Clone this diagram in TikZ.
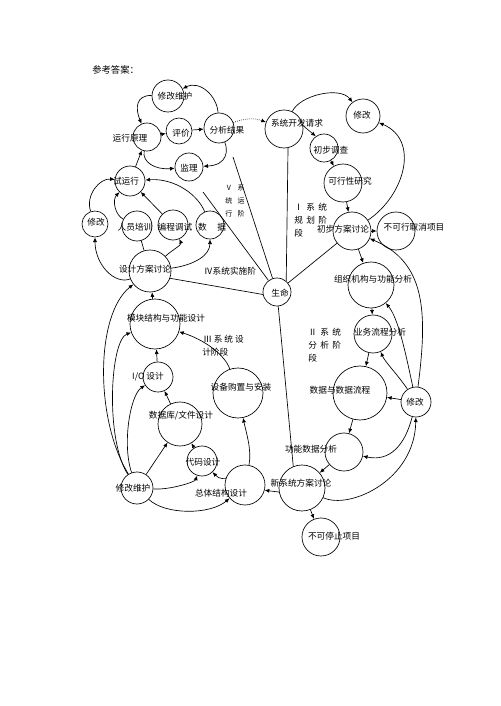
\documentclass[tikz,border=0pt]{standalone}
\usepackage{fontspec}
\setmainfont{Noto Sans CJK SC}
\usetikzlibrary{arrows.meta}
\newcommand{\gp}{\hspace{2.5pt}}
\tikzset{
  ring/.style={circle,draw,line width=0.5pt,inner sep=0pt,minimum size={#1*1.5pt}},
  lbl/.style={inner sep=0pt,font=\fontsize{6.5}{8}\selectfont},
  small lbl/.style={inner sep=0pt,font=\fontsize{5.3}{7}\selectfont},
  arr/.style={line width=0.5pt,-{Latex[length=3.5pt,width=3pt]}},
  edge line/.style={line width=0.5pt}
}

\begin{document}
\begin{tikzpicture}[x=0.75pt,y=0.75pt,yscale=-1,xscale=1]
\useasboundingbox (0,0) rectangle (500,706);

% Text Node
\node[lbl,anchor=west,font=\fontsize{7}{8}\selectfont] (title) at (92,70) {参考答案：};

%Shape: Circle -- V stage
\node[ring=16] (maint) at (168,96) {};
\node[ring=14] (principle) at (147,137) {};
\node[ring=13] (evaluate) at (179,131) {};
\node[ring=15] (result) at (219,128) {};
\node[ring=14] (supervise) at (189,167) {};
%Shape: Circle -- IV stage
\node[ring=15] (trial) at (130,181) {};
\node[ring=13] (modl) at (95,224) {};
\node[ring=15] (training) at (137,226) {};
\node[ring=15] (coding) at (173,225) {};
\node[ring=14] (data) at (210,225) {};
\node[ring=21] (designdisc) at (150,271) {};
\node[ring=14] (life) at (277,292) {};
%Shape: Circle -- I stage
\node[ring=19] (request) at (284,129) {};
\node[ring=17] (modtr) at (363,116) {};
\node[ring=14] (prelim) at (324,148) {};
\node[ring=19] (feasible) at (343,183) {};
\node[ring=19] (plandisc) at (352,231) {};
\node[ring=19] (cancel) at (396,231) {};
%Shape: Circle -- II stage
\node[ring=23] (orgfunc) at (371,285) {};
\node[ring=19] (bizflow) at (373,334) {};
\node[ring=27] (dataflow) at (360,393) {};
\node[ring=15] (modr) at (416,402) {};
\node[ring=19] (funcdata) at (344,452) {};
\node[ring=23] (newdisc) at (302,488) {};
\node[ring=19] (stop) at (321,537) {};
%Shape: Circle -- III stage
\node[ring=20] (overall) at (245,485) {};
\node[ring=15] (codedes) at (202,461) {};
\node[ring=22] (dbfile) at (180,424) {};
\node[ring=15] (iodes) at (158,377) {};
\node[ring=25] (module) at (155,324) {};
\node[ring=25] (equip) at (238,393) {};
\node[ring=16] (maintb) at (137,488) {};

% Text Node
\node[lbl] (tmaint) at (175,96) {修改维护};
\node[lbl] (tprinciple) at (130,138) {运行原理};
\node[lbl] (tevaluate) at (181,133) {评价};
\node[lbl] (tresult) at (227,130) {分析结果};
\node[lbl] (tsupervise) at (189,168) {监理};
\node[lbl] (ttrial) at (126,181) {试运行};
\node[lbl] (tmodl) at (96,222) {修改};
\node[lbl] (ttraining) at (135,227) {人员培训};
\node[lbl] (tcoding) at (175,227) {编程调试};
\node[lbl] (tdata) at (212,227) {数\hspace{8pt}据};
\node[lbl] (tdesigndisc) at (145,269) {设计方案讨论};
\node[lbl] (tlife) at (280,293) {生命};
\node[lbl] (trequest) at (297,123) {系统开发请求};
\node[lbl] (tmodtr) at (362,115) {修改};
\node[lbl] (tprelim) at (331,150) {初步调查};
\node[lbl] (tfeasible) at (350,181) {可行性研究};
\node[lbl] (tplandisc) at (343,229) {初步方案讨论};
\node[lbl] (tcancel) at (414,227) {不可行取消项目};
\node[lbl] (torgfunc) at (373,279) {组织机构与功能分析};
\node[lbl] (tbizflow) at (380,332) {业务流程分析};
\node[lbl] (tdataflow) at (340,390) {数据与数据流程};
\node[lbl] (tmodr) at (415,402) {修改};
\node[lbl] (tfuncdata) at (311,449) {功能数据分析};
\node[lbl] (tnewdisc) at (301,483) {新系统方案讨论};
\node[lbl] (tstop) at (334,536) {不可停止项目};
\node[lbl] (toverall) at (221,493) {总体结构设计};
\node[lbl] (tcodedes) at (203,462) {代码设计};
\node[lbl] (tdbfile) at (181,416) {数据库/文件设计};
\node[lbl] (tmaintb) at (133,488) {修改维护};
\node[lbl] (tiodes) at (148,377) {I/O 设计};
\node[lbl] (tmodule) at (166,318) {模块结构与功能设计};
\node[lbl] (tequip) at (241,387) {设备购置与安装};

% Stage labels
\node[small lbl] (stv1) at (235,188) {Ⅴ\hspace{4pt}系};
\node[small lbl] (stv2) at (235,201) {统\hspace{4pt}运};
\node[small lbl] (stv3) at (235,214) {行\hspace{4pt}阶};
\node[lbl,anchor=west] (sti1) at (294,207) {Ⅰ\gp 系\gp 统};
\node[lbl,anchor=west] (sti2) at (294,220) {规\gp 划\gp 阶};
\node[lbl,anchor=west] (sti3) at (294,233) {段};
\node[lbl,anchor=west] (stii1) at (308,332) {Ⅱ\gp 系\gp 统};
\node[lbl,anchor=west] (stii2) at (308,345) {分\gp 析\gp 阶};
\node[lbl,anchor=west] (stii3) at (308,358) {段};
\node[lbl,anchor=west] (stiii1) at (203,339) {Ⅲ 系 统 设};
\node[lbl,anchor=west] (stiii2) at (202,352) {计阶段};
\node[lbl] (stiv) at (230,271) {Ⅳ系统实施阶};

%Straight Lines -- stage borders
\coordinate (v1) at (233,157);
\coordinate (v2) at (203,192);
\draw[edge line] (v1) -- (life);
\draw[edge line] (v2) -- (life);
\draw[edge line] (designdisc.-20) -- (life.190);
\draw[edge line] (request.-78) -- (life.50);
\draw[edge line] (life) -- (plandisc);
\draw[edge line] (life.-85) -- (newdisc.112);

%Curve Lines -- V stage
\draw[arr] (result) .. controls (217,96) and (200,80) .. (maint);
\draw[arr] (maint) .. controls (136,95) and (135,108) .. (principle);
\draw[arr] (principle) -- (evaluate);
\draw[arr] (evaluate) -- (result);
\draw[arr] (result) .. controls (228,150) and (228,165) .. (supervise);
\draw[arr] (principle) .. controls (142,162) and (155,170) .. (supervise);
\draw[arr] (trial) -- (principle);
\draw[arr,densely dotted] (result) .. controls (245,118) and (255,118) .. (request);

%Curve Lines -- I stage
\draw[arr] (request) .. controls (300,95) and (340,86) .. (modtr);
\draw[arr] (request.10) -- (prelim.125);
\draw[arr] (prelim) -- (feasible);
\draw[arr] (feasible) -- (plandisc);
\draw[arr] (plandisc) .. controls (405,195) and (420,140) .. (modtr);
\draw[arr] (plandisc) -- (cancel);
\draw[arr] (plandisc) -- (orgfunc);

%Curve Lines -- II stage
\draw[arr] (orgfunc) -- (bizflow);
\draw[arr] (bizflow) -- (dataflow);
\draw[arr] (dataflow) -- (funcdata);
\draw[arr] (funcdata) -- (newdisc);
\draw[arr] (newdisc) -- (stop);
\draw[arr] (newdisc.190) -- (overall.-15);
\draw[arr] (modr) -- (dataflow);
\draw[arr] (modr) .. controls (398,375) and (385,362) .. (bizflow);
\draw[arr] (modr) .. controls (405,350) and (398,318) .. (orgfunc);
\draw[arr] (modr) .. controls (428,310) and (425,262) .. (plandisc);
\draw[arr] (modr) .. controls (405,445) and (390,462) .. (funcdata);
\draw[arr] (newdisc) .. controls (350,510) and (415,480) .. (modr);

%Curve Lines -- III stage
\draw[arr] (overall) .. controls (252,450) and (246,432) .. (equip);
\draw[arr] (overall) .. controls (225,478) and (220,480) .. (codedes);
\draw[arr] (maintb) .. controls (170,490) and (195,482) .. (codedes);
\draw[arr] (maintb) .. controls (165,515) and (210,515) .. (overall);
\draw[arr] (maintb) -- (dbfile);
\draw[arr] (codedes) -- (dbfile);
\draw[arr] (maintb) .. controls (122,445) and (130,395) .. (iodes);
\draw[arr] (maintb) .. controls (105,440) and (110,340) .. (module);
\draw[arr] (maintb) .. controls (95,420) and (95,315) .. (designdisc);
\draw[arr] (equip) .. controls (225,355) and (205,340) .. (module);
\draw[arr] (dbfile) -- (iodes);
\draw[arr] (iodes) -- (module);
\draw[arr] (module) -- (designdisc);

%Curve Lines -- IV stage
\draw[arr] (designdisc) .. controls (115,285) and (95,265) .. (modl);
\draw[arr] (modl) .. controls (85,195) and (100,178) .. (trial);
\draw[edge line] (designdisc) -- (training);
\draw[arr] (designdisc) .. controls (172,250) and (182,245) .. (coding);
\draw[arr] (designdisc) .. controls (195,265) and (210,255) .. (data);
\draw[arr] (training) .. controls (115,215) and (112,200) .. (trial);
\draw[arr] (coding) -- (trial);
\draw[arr] (data) .. controls (198,195) and (175,178) .. (trial);

\end{tikzpicture}
\end{document}
